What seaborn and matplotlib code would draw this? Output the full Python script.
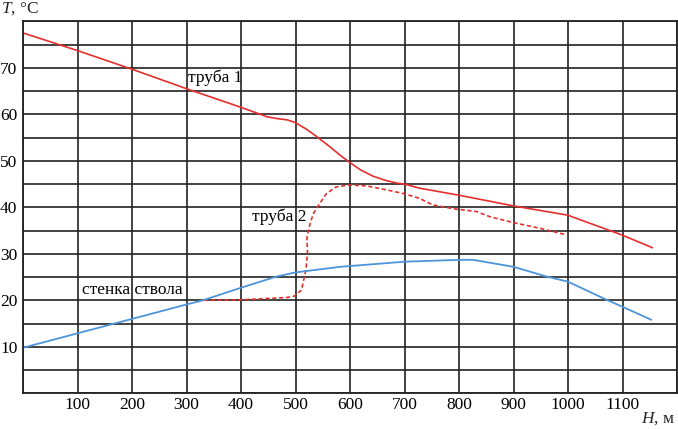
import matplotlib
matplotlib.use("Agg")
import matplotlib.pyplot as plt
import seaborn as sns
import pandas as pd

# --- data ---
pipe1_h = [0, 100, 200, 300, 400, 447, 465, 485, 500, 520, 539, 560, 582, 600, 620, 642, 665, 686, 700, 728, 800, 900, 1000, 1009, 1100, 1155]
pipe1_t = [77.5, 73.7, 69.7, 65.5, 61.5, 59.5, 59.1, 58.8, 58.2, 56.8, 55.2, 53.3, 51.2, 49.6, 48.0, 46.7, 45.8, 45.2, 45.0, 44.1, 42.6, 40.3, 38.3, 37.9, 34.0, 31.3]

pipe2_h = [332, 400, 484, 498, 511, 519, 522, 521, 527, 533, 545, 557, 575, 600, 631, 673, 700, 728, 752, 795, 832, 856, 900, 948, 1000]
pipe2_t = [20.0, 20.1, 20.6, 20.9, 22.2, 26.5, 30.1, 33.7, 36.6, 38.7, 40.9, 43.0, 44.4, 44.8, 44.6, 43.6, 42.9, 41.9, 40.5, 39.6, 39.1, 38.0, 36.7, 35.5, 34.0]

wall_h = [0, 100, 200, 300, 330, 400, 465, 500, 582, 700, 800, 826, 900, 961, 1000, 1071, 1100, 1153]
wall_t = [9.8, 12.9, 16.0, 19.1, 20.0, 22.7, 25.1, 26.0, 27.2, 28.3, 28.7, 28.7, 27.2, 25.1, 24.0, 20.1, 18.6, 15.8]

x_ticks = [100, 200, 300, 400, 500, 600, 700, 800, 900, 1000, 1100]
y_ticks = [10, 20, 30, 40, 50, 60, 70]

labels = ["труба 1", "труба 2", "стенка ствола"]

sns.set_theme(style="white")
plt.rcParams["font.family"] = ["Liberation Serif", "DejaVu Serif"]
plt.rcParams["mathtext.fontset"] = "custom"
plt.rcParams["mathtext.it"] = "Liberation Serif:italic"
plt.rcParams["mathtext.rm"] = "Liberation Serif"

FS = 12.5

fig = plt.figure(figsize=(6.78, 4.29), dpi=100)
ax = fig.add_axes([23 / 678, 1 - 393.3 / 429, 654 / 678, 372 / 429])

red = "#e52f2c"
blue = "#4d94db"

df1 = pd.DataFrame({"H": pipe1_h, "T": pipe1_t})
df2 = pd.DataFrame({"H": pipe2_h, "T": pipe2_t})
df3 = pd.DataFrame({"H": wall_h, "T": wall_t})

sns.lineplot(data=df1, x="H", y="T", sort=False, color=red, lw=1.2, ax=ax)
sns.lineplot(data=df2, x="H", y="T", sort=False, color=red, lw=1.2, ax=ax,
             linestyle=(0, (2.5, 1.6)))
sns.lineplot(data=df3, x="H", y="T", sort=False, color=blue, lw=1.3, ax=ax)

ax.set_xlim(0, 1200)
ax.set_ylim(0, 80)
ax.set_xticks(range(0, 1201, 100))
ax.set_yticks(range(0, 81, 5))
ax.set_xticklabels([str(v) if v in x_ticks else "" for v in range(0, 1201, 100)])
ax.set_yticklabels([str(v) if v in y_ticks else "" for v in range(0, 81, 5)])
ax.grid(True, color="#222222", lw=1.2)
ax.set_axisbelow(True)
ax.tick_params(axis="both", length=0, labelsize=FS, colors="black")
ax.tick_params(axis="y", pad=4)
ax.tick_params(axis="x", pad=3)
for s in ax.spines.values():
    s.set_color("#222222")
    s.set_linewidth(1.3)
ax.set_xlabel("")
ax.set_ylabel("")

ax.text(352, 67.8, labels[0], fontsize=FS, ha="center", va="center", color="black")
ax.text(471, 37.9, labels[1], fontsize=FS, ha="center", va="center", color="black")
ax.text(200, 22.2, labels[2], fontsize=FS, ha="center", va="center", color="black")

fig.text(1 / 678, 1 - 9 / 429, r"$T$, °C", fontsize=FS, ha="left", va="center")
fig.text(675 / 678, 1 - 419 / 429, r"$H$, м", fontsize=FS, ha="right", va="center")

fig.savefig("out.png", dpi=100)
